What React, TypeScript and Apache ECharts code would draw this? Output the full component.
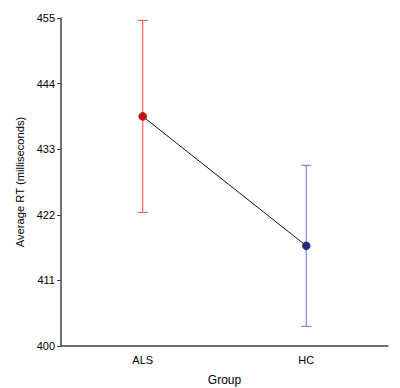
import React, { useEffect, useRef } from "react";
import * as echarts from "echarts";

const groups = ["ALS", "HC"];
const means = [438.5, 416.8];
const lowers = [422.4, 403.3];
const uppers = [454.6, 430.3];
const yTicks = [400, 411, 422, 433, 444, 455];
const barColors = ["#ff4040", "#7070d0"];
const dotColors = ["#dd0000", "#1c2a8c"];

export default function App() {
  const ref = useRef<HTMLDivElement>(null);
  useEffect(() => {
    if (!ref.current) return;
    const chart = echarts.init(ref.current, null, { renderer: "svg" });
    const font = "Liberation Sans, Arial, sans-serif";
    chart.setOption({
      animation: false,
      grid: { left: 61, top: 18, right: 12, bottom: 42, outerBoundsMode: "none", containLabel: false },
      xAxis: {
        type: "category",
        data: groups,
        name: "Group",
        nameLocation: "middle",
        nameGap: 28,
        nameTextStyle: { fontFamily: font, fontSize: 12, color: "#000" },
        axisLine: { lineStyle: { color: "#444", width: 1.5 } },
        axisTick: { alignWithLabel: true, length: 4, lineStyle: { color: "#444" } },
        axisLabel: { fontFamily: font, fontSize: 11, color: "#000", margin: 8 },
        splitLine: { show: false },
      },
      yAxis: {
        type: "value",
        min: 400,
        max: 455,
        name: "Average RT (milliseconds)",
        nameLocation: "middle",
        nameGap: 35,
        nameTextStyle: { fontFamily: font, fontSize: 11.2, color: "#000" },
        axisLine: { show: true, lineStyle: { color: "#444", width: 1.5 } },
        axisTick: { show: true, length: 4, customValues: yTicks, lineStyle: { color: "#444" } },
        axisLabel: { fontFamily: font, fontSize: 11, color: "#000", margin: 6, customValues: yTicks },
        splitLine: { show: false },
      },
      series: [
        {
          type: "custom",
          data: groups.map((g, i) => [i, lowers[i], uppers[i]]),
          renderItem: (params: any, api: any) => {
            const i = api.value(0);
            const lo = api.coord([i, api.value(1)]);
            const hi = api.coord([i, api.value(2)]);
            const color = barColors[params.dataIndex];
            const hw = 5;
            const style = { stroke: color, lineWidth: 1 };
            return {
              type: "group",
              children: [
                { type: "line", shape: { x1: lo[0], y1: lo[1], x2: hi[0], y2: hi[1] }, style },
                { type: "line", shape: { x1: lo[0] - hw, y1: lo[1], x2: lo[0] + hw, y2: lo[1] }, style },
                { type: "line", shape: { x1: hi[0] - hw, y1: hi[1], x2: hi[0] + hw, y2: hi[1] }, style },
              ],
            };
          },
          z: 1,
        },
        {
          type: "line",
          data: means.map((m, i) => ({
            value: m,
            itemStyle: { color: dotColors[i], borderColor: "#333", borderWidth: 0.5 },
          })),
          symbol: "circle",
          symbolSize: 8,
          lineStyle: { color: "#111", width: 1 },
          z: 3,
        },
      ],
    });
    return () => chart.dispose();
  }, []);
  return <div ref={ref} style={{ width: 400, height: 388, position: "absolute", left: 0, top: 0 }} />;
}
